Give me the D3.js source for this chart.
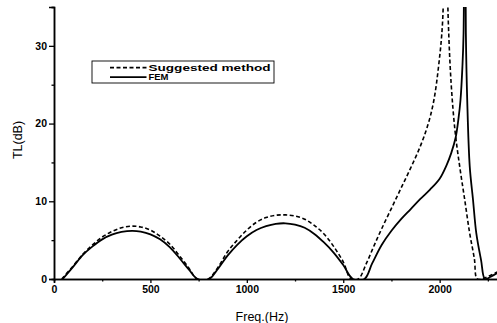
<!DOCTYPE html>
<html>
<head>
<meta charset="utf-8">
<script src="https://cdn.jsdelivr.net/npm/d3@7"></script>
<style>
  html, body { margin: 0; padding: 0; background: #fff; }
  svg { display: block; }
  text { font-family: "Liberation Sans", Arial, sans-serif; fill: #000; }
</style>
</head>
<body>
<svg id="chart" width="497" height="323"></svg>
<script>
// Transmission loss vs frequency: suggested method vs FEM
const seriesNames = ["Suggested method", "FEM"];

const suggestedFreq = [40, 100, 150, 200, 250, 300, 350, 400, 450, 500, 550, 600, 650, 700, 742,
  800, 850, 900, 950, 1000, 1050, 1100, 1150, 1200, 1250, 1300, 1350, 1400, 1450, 1500, 1540,
  1578, 1620, 1660, 1700, 1750, 1800, 1850, 1900, 1940, 1970, 1995, 2015, 2030,
  2045, 2060, 2080, 2105, 2130, 2155, 2180, 2195, 2230, 2265, 2300];
const suggestedTL = [0, 1.7, 3.2, 4.4, 5.4, 6.1, 6.6, 6.8, 6.7, 6.3, 5.5, 4.5, 3.0, 1.4, 0,
  0, 1.5, 3.5, 5.0, 6.3, 7.3, 7.9, 8.2, 8.25, 8.1, 7.7, 6.9, 5.8, 4.2, 2.2, 0,
  0, 2.0, 4.3, 6.5, 9.1, 11.7, 14.3, 17.1, 19.9, 23.0, 27.5, 33.0, 48,
  33.0, 25.0, 19.0, 14.3, 10.2, 6.0, 2.6, 0, 0.1, 0.5, 0.9];

const femFreq = [45, 100, 150, 200, 250, 300, 350, 405, 450, 500, 550, 600, 650, 700, 745,
  805, 850, 900, 950, 1000, 1050, 1100, 1150, 1200, 1250, 1300, 1350, 1400, 1450, 1500, 1550,
  1610, 1650, 1700, 1750, 1800, 1850, 1900, 1950, 2000, 2035, 2060, 2083, 2097, 2108, 2118, 2124, 2130,
  2136, 2143, 2156, 2173, 2190, 2215, 2235, 2265, 2300];
const femTL = [0, 1.6, 3.1, 4.2, 5.1, 5.7, 6.05, 6.2, 6.1, 5.75, 5.1, 4.1, 2.7, 1.2, 0,
  0, 1.3, 3.0, 4.4, 5.5, 6.3, 6.8, 7.1, 7.17, 7.0, 6.6, 5.8, 4.7, 3.4, 1.8, 0,
  0, 2.0, 4.4, 6.2, 7.7, 9.0, 10.3, 11.5, 12.9, 14.6, 16.2, 18.2, 20.5, 23.0, 27.3, 31.6, 60,
  31.6, 23.0, 14.5, 10.2, 5.9, 2.4, 0, 0.3, 0.8];

const xTicks = [0, 500, 1000, 1500, 2000];
const xMinorTicks = [250, 750, 1250, 1750, 2250];
const yTicks = [0, 10, 20, 30];
const yMinorTicks = [5, 15, 25, 35];

const svg = d3.select("#chart");
const x = d3.scaleLinear().domain([0, 2300]).range([54, 497.5]);
const y = d3.scaleLinear().domain([0, 35]).range([279, 7]);

svg.append("defs").append("clipPath").attr("id", "plot")
  .append("rect").attr("x", 54).attr("y", 7).attr("width", 444).attr("height", 272);

// curves
const line = d3.line().x(d => x(d[0])).y(d => y(d[1])).curve(d3.curveCatmullRom.alpha(0.5));
const suggested = suggestedFreq.map((f, i) => [f, suggestedTL[i]]);
const fem = femFreq.map((f, i) => [f, femTL[i]]);

const g = svg.append("g").attr("clip-path", "url(#plot)");
g.append("path").datum(suggested).attr("d", line)
  .attr("fill", "none").attr("stroke", "#000").attr("stroke-width", 1.6)
  .attr("stroke-dasharray", "4,2.5");
g.append("path").datum(fem).attr("d", line)
  .attr("fill", "none").attr("stroke", "#000").attr("stroke-width", 1.8);

// axes
svg.append("g").attr("transform", `translate(0,${y(0)})`)
  .call(d3.axisBottom(x).tickValues(xTicks).tickSize(4).tickPadding(3).tickFormat(d3.format("d")));
svg.append("g").attr("transform", `translate(0,${y(0)})`)
  .call(d3.axisBottom(x).tickValues(xMinorTicks).tickSize(2.5).tickFormat(""));
svg.append("g").attr("transform", `translate(${x(0)},0)`)
  .call(d3.axisLeft(y).tickValues(yTicks).tickSize(5).tickPadding(2).tickFormat(d3.format("d")));
svg.append("g").attr("transform", `translate(${x(0)},0)`)
  .call(d3.axisLeft(y).tickValues(yMinorTicks).tickSize(2.5).tickFormat(""));

svg.selectAll(".domain").attr("stroke", "#000").attr("stroke-width", 1.5);
svg.selectAll(".tick line").attr("stroke", "#000").attr("stroke-width", 1.3);
svg.selectAll(".tick text").attr("font-size", 10.5).attr("font-weight", "bold")
  .attr("font-family", "'Liberation Sans', Arial, sans-serif");

// axis titles
svg.append("text").attr("x", 262).attr("y", 320.5).attr("text-anchor", "middle")
  .attr("font-size", 12.5).text("Freq.(Hz)");
svg.append("text").attr("transform", "translate(22,140) rotate(-90)")
  .attr("text-anchor", "middle").attr("font-size", 12.5).text("TL(dB)");

// legend
const lg = svg.append("g");
lg.append("rect").attr("x", 92).attr("y", 61).attr("width", 182).attr("height", 22)
  .attr("fill", "#fff").attr("stroke", "#000").attr("stroke-width", 0.9);
const rows = [{ name: seriesNames[0], dash: "4,2.5", yy: 67.6, w: 1.6, len: 122 },
              { name: seriesNames[1], dash: null, yy: 77.2, w: 1.8, len: 20 }];
rows.forEach(r => {
  lg.append("line").attr("x1", 110).attr("x2", 146.5).attr("y1", r.yy).attr("y2", r.yy)
    .attr("stroke", "#000").attr("stroke-width", r.w)
    .attr("stroke-dasharray", r.dash);
  lg.append("text").attr("x", 148.5).attr("y", r.yy + 3)
    .attr("font-size", 8.5).attr("font-weight", "bold")
    .attr("textLength", r.len).attr("lengthAdjust", "spacingAndGlyphs")
    .text(r.name);
});
</script>
</body>
</html>
